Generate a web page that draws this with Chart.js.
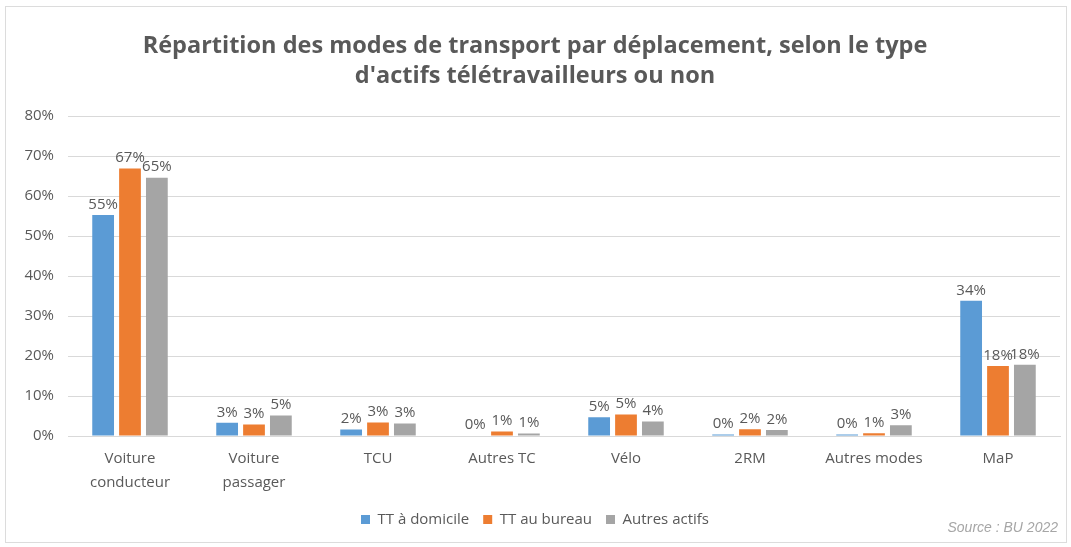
<!DOCTYPE html>
<html lang="fr">
<head>
    <meta charset="UTF-8">
    <title>Répartition des modes de transport</title>
    <style>
        body, html {
            margin: 0;
            padding: 0;
            background: #fff;
            font-family: "Open Sans", sans-serif;
        }
        #wrap {
            position: relative;
            width: 1071px;
            height: 547px;
        }
        #frame {
            position: absolute;
            left: 5px;
            top: 6px;
            width: 1062px;
            height: 537px;
            border: 1px solid #dcdcdc;
            box-sizing: border-box;
        }
        #source {
            position: absolute;
            right: 13px;
            top: 519px;
            font-family: "Liberation Sans", Arial, sans-serif;
            font-style: italic;
            font-size: 14px;
            color: #a6a6a6;
        }
        canvas { position: absolute; left: 0; top: 0; }
    </style>
</head>
<body>
<div id="wrap">
    <div id="frame"></div>
    <canvas id="myChart" width="1071" height="547"></canvas>
    <div id="source">Source : BU 2022</div>
</div>

<script src="https://cdn.jsdelivr.net/npm/chart.js"></script>
<script>
    // catégories et valeurs (en %)
    var categories = [['Voiture', 'conducteur'], ['Voiture', 'passager'], 'TCU', 'Autres TC', 'Vélo', '2RM', 'Autres modes', 'MaP'];
    var ttDomicile = [55.3, 3.3, 1.6, 0.1, 4.7, 0.4, 0.4, 33.8];
    var ttBureau = [66.9, 2.9, 3.4, 1.1, 5.4, 1.7, 0.7, 17.5];
    var autresActifs = [64.6, 5.1, 3.1, 0.6, 3.6, 1.5, 2.7, 17.8];
    var yTicks = [0, 10, 20, 30, 40, 50, 60, 70, 80];

    var textColor = '#595959';

    // étiquettes de valeur au-dessus des barres
    var valueLabels = {
        id: 'valueLabels',
        afterDatasetsDraw: function(chart) {
            var ctx = chart.ctx;
            ctx.save();
            ctx.font = '15px "Open Sans", sans-serif';
            ctx.fillStyle = textColor;
            ctx.textAlign = 'center';
            ctx.textBaseline = 'bottom';
            chart.data.datasets.forEach(function(ds, i) {
                chart.getDatasetMeta(i).data.forEach(function(bar, j) {
                    ctx.fillText(Math.round(ds.data[j]) + '%', bar.x, bar.y - 3);
                });
            });
            ctx.restore();
        }
    };

    var ctx = document.getElementById('myChart').getContext('2d');
    new Chart(ctx, {
        type: 'bar',
        data: {
            labels: categories,
            datasets: [
                { label: 'TT à domicile', data: ttDomicile, backgroundColor: '#5B9BD5' },
                { label: 'TT au bureau', data: ttBureau, backgroundColor: '#ED7D31' },
                { label: 'Autres actifs', data: autresActifs, backgroundColor: '#A5A5A5' }
            ]
        },
        options: {
            responsive: false,
            animation: false,
            categoryPercentage: 0.65,
            barPercentage: 0.81,
            layout: { padding: { left: 10, right: 11, top: 0, bottom: 10 } },
            plugins: {
                title: {
                    display: true,
                    text: ['Répartition des modes de transport par déplacement, selon le type', "d'actifs télétravailleurs ou non"],
                    color: textColor,
                    font: { family: '"Open Sans", sans-serif', size: 23.5, weight: 'bold', lineHeight: 1.28 },
                    padding: { top: 31, bottom: 25 }
                },
                legend: {
                    position: 'bottom',
                    labels: {
                        color: textColor,
                        boxWidth: 9,
                        boxHeight: 9,
                        padding: 14,
                        font: { family: '"Open Sans", sans-serif', size: 15 }
                    }
                },
                tooltip: { enabled: false }
            },
            scales: {
                x: {
                    grid: { display: false },
                    border: { color: '#d9d9d9' },
                    ticks: {
                        color: textColor,
                        padding: 3,
                        maxRotation: 0,
                        font: { family: '"Open Sans", sans-serif', size: 15, lineHeight: 1.6 }
                    }
                },
                y: {
                    min: 0,
                    max: 80,
                    afterBuildTicks: function(scale) {
                        scale.ticks = yTicks.map(function(v) { return { value: v }; });
                    },
                    afterFit: function(scale) { scale.width = 58; },
                    grid: { color: '#d9d9d9', drawTicks: false },
                    border: { display: false },
                    ticks: {
                        color: textColor,
                        padding: 14,
                        font: { family: '"Open Sans", sans-serif', size: 15 },
                        callback: function(v) { return v + '%'; }
                    }
                }
            }
        },
        plugins: [valueLabels]
    });
</script>
</body>
</html>
